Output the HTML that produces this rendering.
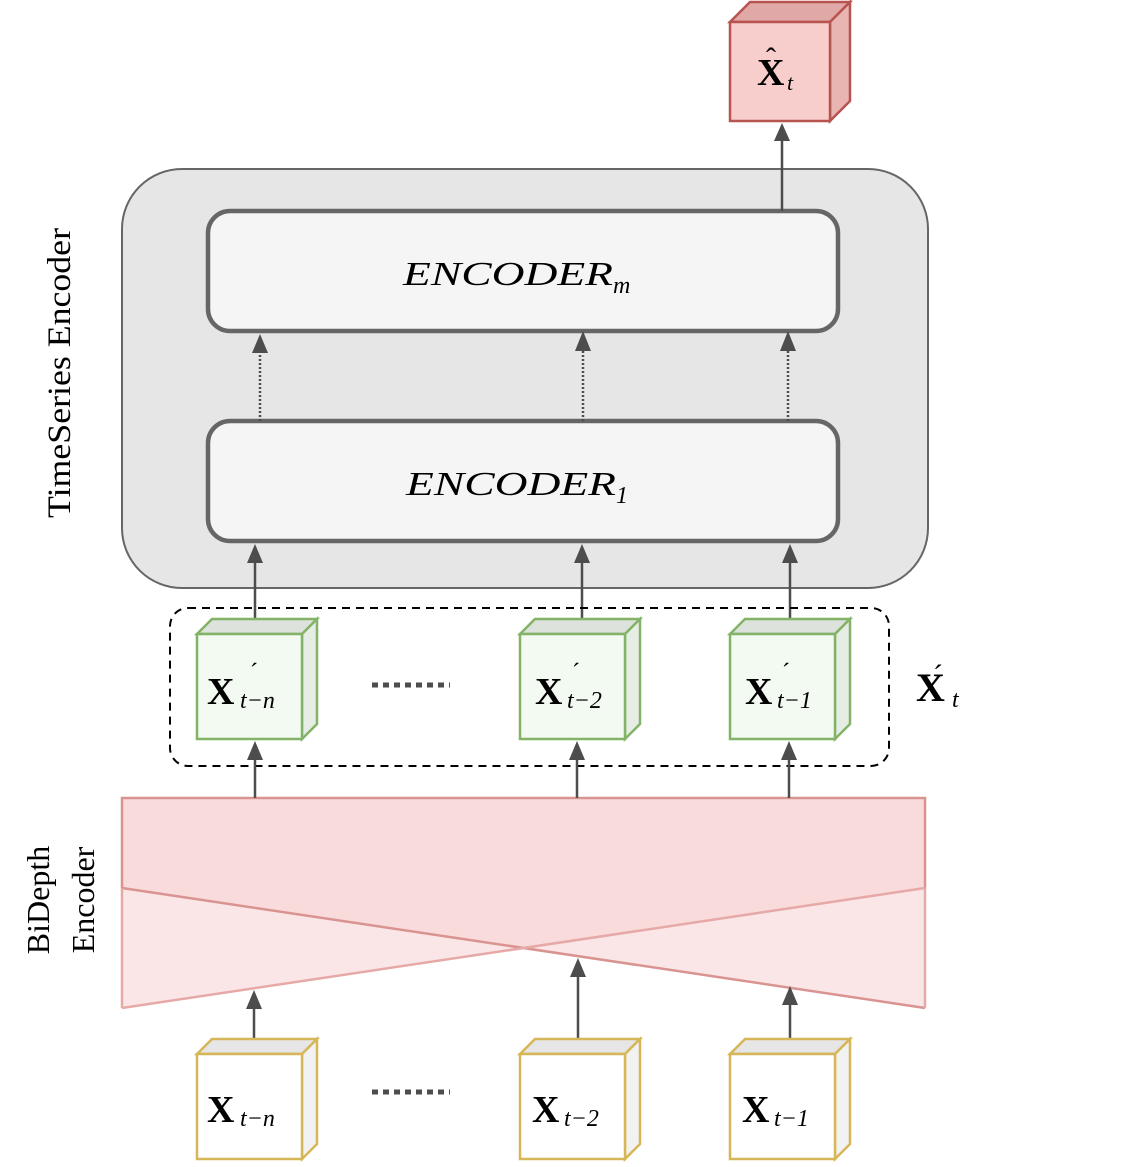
<!DOCTYPE html>
<html><head><style>body{margin:0;background:#fff}svg{display:block}</style></head><body>
<svg width="1122" height="1167" viewBox="0 0 1122 1167" xmlns="http://www.w3.org/2000/svg" font-family="Liberation Serif, serif">
<!-- output cube -->
<g stroke="#b85450" stroke-width="2.5">
<polygon points="730,22 750,2 850,2 830,22" fill="#e0a9a7"/>
<polygon points="830,22 850,2 850,101 830,121" fill="#e8b5b3"/>
<rect x="730" y="22" width="100" height="99" fill="#f8cecc"/>
</g>
<text x="757" y="85" font-size="38" font-weight="bold">X</text><text x="766" y="68" font-size="30">ˆ</text><text x="787" y="90" font-size="22" font-style="italic">t</text>
<!-- container -->
<rect x="122" y="169" width="806" height="419" rx="60" fill="#e6e6e6" stroke="#666" stroke-width="2"/>
<rect x="208" y="211" width="630" height="120" rx="22" fill="#f5f5f5" stroke="#666" stroke-width="4.5"/>
<rect x="208" y="421" width="630" height="120" rx="22" fill="#f5f5f5" stroke="#666" stroke-width="4.5"/>
<text x="403" y="285" font-size="34" font-style="italic"><tspan textLength="210" lengthAdjust="spacingAndGlyphs">ENCODER</tspan><tspan font-size="24" dy="8">m</tspan></text>
<text x="406" y="495" font-size="34" font-style="italic"><tspan textLength="210" lengthAdjust="spacingAndGlyphs">ENCODER</tspan><tspan font-size="24" dy="8">1</tspan></text>
<text transform="translate(70,373) rotate(-90)" font-size="33" text-anchor="middle" textLength="290" lengthAdjust="spacingAndGlyphs">TimeSeries Encoder</text>
<text transform="translate(49,900) rotate(-90)" font-size="32" text-anchor="middle">BiDepth</text>
<text transform="translate(94,900) rotate(-90)" font-size="32" text-anchor="middle">Encoder</text>
<!-- arrows -->
<g stroke="#4d4d4d" stroke-width="2.5" fill="none">
<line x1="782" y1="211" x2="782" y2="138"/>
<line x1="260" y1="421" x2="260" y2="350" stroke-dasharray="2,2"/>
<line x1="583" y1="421" x2="583" y2="348" stroke-dasharray="2,2"/>
<line x1="788" y1="421" x2="788" y2="348" stroke-dasharray="2,2"/>
<line x1="255" y1="618" x2="255" y2="560"/>
<line x1="582" y1="618" x2="582" y2="560"/>
<line x1="790" y1="618" x2="790" y2="560"/>
</g>
<g fill="#4d4d4d">
<polygon points="782,123 774,141 790,141"/>
<polygon points="260,334 252,353 268,353"/>
<polygon points="583,331 575,351 591,351"/>
<polygon points="788,331 780,351 796,351"/>
<polygon points="255,544 247,563 263,563"/>
<polygon points="582,544 574,563 590,563"/>
<polygon points="790,544 782,563 798,563"/>
</g>
<!-- dashed box -->
<rect x="170" y="608" width="719" height="158" rx="18" fill="none" stroke="#000" stroke-width="2" stroke-dasharray="8,6"/>
<!-- green cubes -->
<g stroke="#82b366" stroke-width="2.5">
<polygon points="197,634 212,619 317,619 302,634" fill="#dde2dc"/><polygon points="302,634 317,619 317,724 302,739" fill="#e6ede5"/><rect x="197" y="634" width="105" height="105" fill="#f2faf1"/>
<polygon points="520,634 535,619 640,619 625,634" fill="#dde2dc"/><polygon points="625,634 640,619 640,724 625,739" fill="#e6ede5"/><rect x="520" y="634" width="105" height="105" fill="#f2faf1"/>
<polygon points="730,634 745,619 850,619 835,634" fill="#dde2dc"/><polygon points="835,634 850,619 850,724 835,739" fill="#e6ede5"/><rect x="730" y="634" width="105" height="105" fill="#f2faf1"/>
</g>
<g font-size="38" font-weight="bold">
<text x="207" y="704">X</text><text x="535" y="704">X</text><text x="745" y="704">X</text>
</g>
<g font-size="24" font-style="italic">
<text x="240" y="708">t−n</text><text x="567" y="708">t−2</text><text x="777" y="708">t−1</text>
<text x="250" y="680" font-style="normal">ˊ</text><text x="572" y="680" font-style="normal">ˊ</text><text x="782" y="680" font-style="normal">ˊ</text>
</g>
<text x="916" y="701" font-size="40" font-weight="bold">X</text><text x="933" y="685" font-size="30">ˊ</text><text x="952" y="707" font-size="24" font-style="italic">t</text>
<line x1="372" y1="685" x2="450" y2="685" stroke="#4d4d4d" stroke-width="5" stroke-dasharray="6,5"/>
<line x1="372" y1="1092" x2="450" y2="1092" stroke="#4d4d4d" stroke-width="5" stroke-dasharray="6,5"/>
<!-- trapezoid -->
<polygon points="122,888 925,888 925,1008 523,948 122,1008" fill="#fae6e6"/>
<rect x="122" y="798" width="803" height="90" fill="#f8dbda"/>
<polygon points="122,888 925,888 523,948" fill="#f8dbda"/>
<g stroke="#d99391" stroke-width="2.5" fill="none">
<polyline points="122,888 122,798 925,798 925,888"/>
<line x1="122" y1="888" x2="925" y2="1008"/>
<line x1="925" y1="888" x2="122" y2="1008" stroke="#e6a9a8"/>
<line x1="122" y1="888" x2="122" y2="1008" stroke="#e6a9a8"/>
<line x1="925" y1="888" x2="925" y2="1008" stroke="#e6a9a8"/>
</g>
<g stroke="#4d4d4d" stroke-width="2.5">
<line x1="255" y1="798" x2="255" y2="756"/><line x1="577" y1="798" x2="577" y2="756"/><line x1="789" y1="798" x2="789" y2="756"/>
<line x1="254" y1="1039" x2="254" y2="1006"/><line x1="578" y1="1039" x2="578" y2="973"/><line x1="790" y1="1039" x2="790" y2="1002"/>
</g>
<g fill="#4d4d4d">
<polygon points="255,741 247,760 263,760"/><polygon points="577,741 569,760 585,760"/><polygon points="789,741 781,760 797,760"/>
<polygon points="254,990 246,1009 262,1009"/><polygon points="578,958 570,977 586,977"/><polygon points="790,986 782,1005 798,1005"/>
</g>
<!-- yellow cubes -->
<g stroke="#d6b656" stroke-width="2.5">
<polygon points="197,1054 212,1039 317,1039 302,1054" fill="#e6e6e6"/><polygon points="302,1054 317,1039 317,1144 302,1159" fill="#f2f2f2"/><rect x="197" y="1054" width="105" height="105" fill="#fff"/>
<polygon points="520,1054 535,1039 640,1039 625,1054" fill="#e6e6e6"/><polygon points="625,1054 640,1039 640,1144 625,1159" fill="#f2f2f2"/><rect x="520" y="1054" width="105" height="105" fill="#fff"/>
<polygon points="730,1054 745,1039 850,1039 835,1054" fill="#e6e6e6"/><polygon points="835,1054 850,1039 850,1144 835,1159" fill="#f2f2f2"/><rect x="730" y="1054" width="105" height="105" fill="#fff"/>
</g>
<g font-size="38" font-weight="bold">
<text x="207" y="1122">X</text><text x="532" y="1122">X</text><text x="742" y="1122">X</text>
</g>
<g font-size="24" font-style="italic">
<text x="240" y="1126">t−n</text><text x="564" y="1126">t−2</text><text x="774" y="1126">t−1</text>
</g>
</svg>
</body></html>
